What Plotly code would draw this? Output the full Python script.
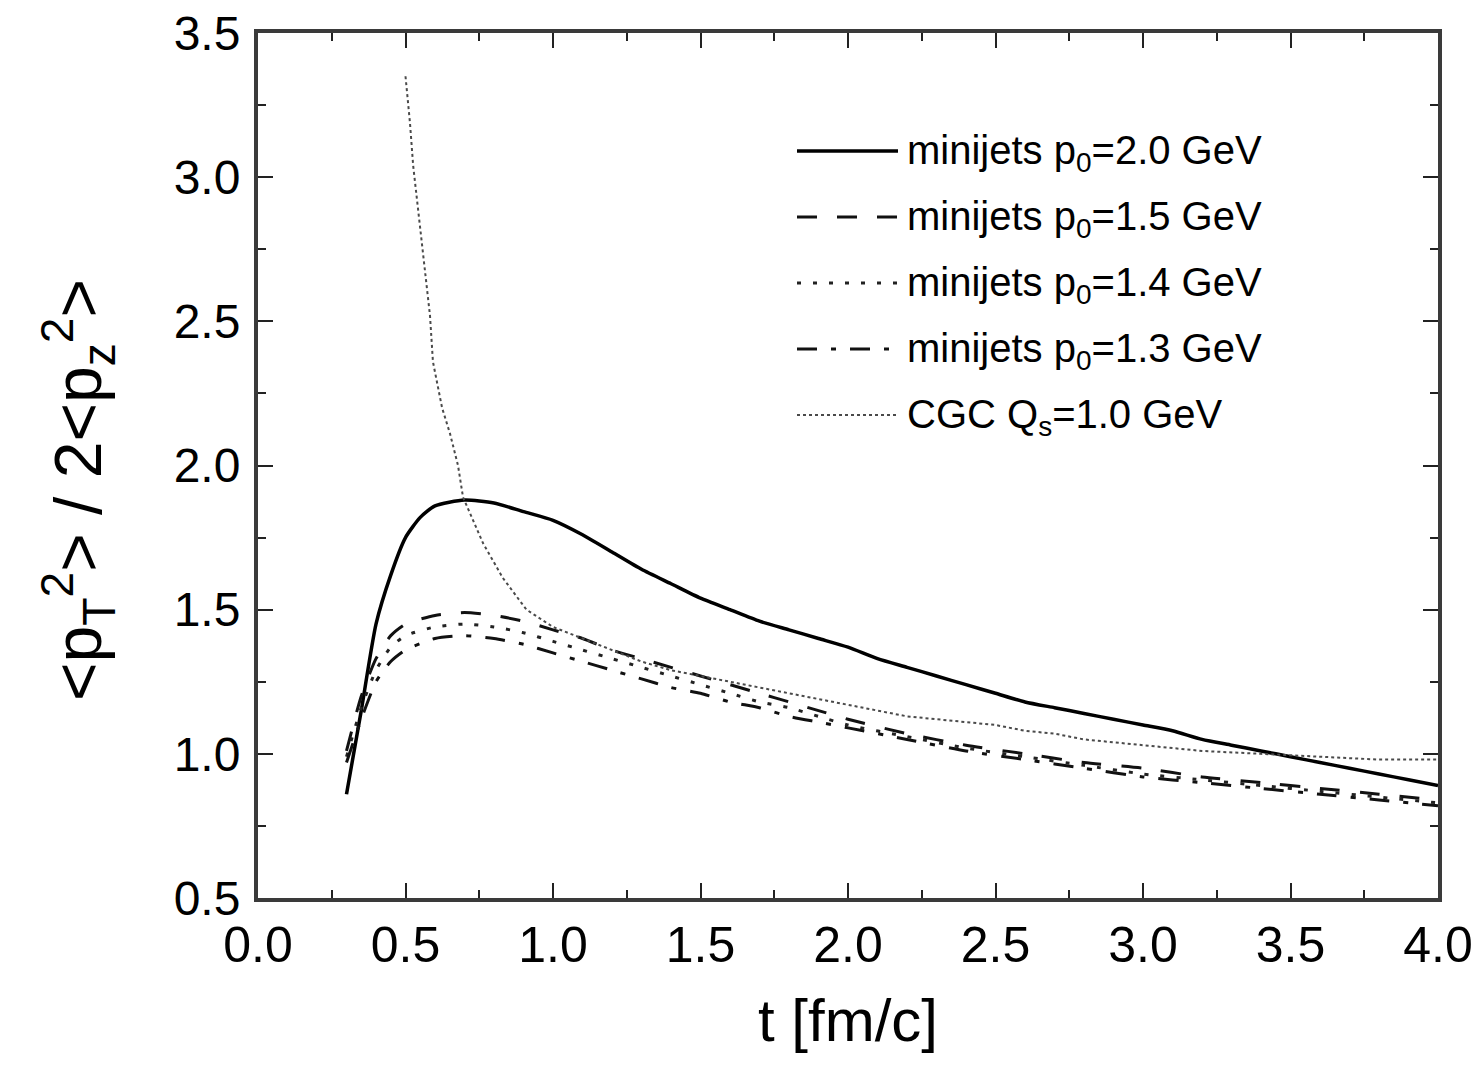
import plotly.graph_objects as go

# time axis samples [fm/c]
t_p20 = [0.30, 0.35, 0.40, 0.45, 0.50, 0.55, 0.60, 0.70, 0.80, 0.90, 1.00, 1.10, 1.20, 1.30,
         1.40, 1.50, 1.60, 1.70, 1.80, 1.90, 2.00, 2.10, 2.20, 2.30, 2.40, 2.50, 2.60, 2.70,
         2.80, 2.90, 3.00, 3.10, 3.20, 3.30, 3.40, 3.50, 3.60, 3.70, 3.80, 3.90, 4.00]
r_p20 = [0.86, 1.15, 1.45, 1.62, 1.75, 1.82, 1.86, 1.88, 1.87, 1.84, 1.81, 1.76, 1.70, 1.64,
         1.59, 1.54, 1.50, 1.46, 1.43, 1.40, 1.37, 1.33, 1.30, 1.27, 1.24, 1.21, 1.18, 1.16,
         1.14, 1.12, 1.10, 1.08, 1.05, 1.03, 1.01, 0.99, 0.97, 0.95, 0.93, 0.91, 0.89]

t_mj = [0.30, 0.35, 0.40, 0.45, 0.50, 0.60, 0.70, 0.80, 0.90, 1.00, 1.10, 1.20, 1.30, 1.40,
        1.50, 1.60, 1.70, 1.80, 1.90, 2.00, 2.20, 2.40, 2.60, 2.80, 3.00, 3.20, 3.40, 3.60,
        3.80, 4.00]
r_p15 = [1.01, 1.20, 1.33, 1.41, 1.45, 1.48, 1.49, 1.48, 1.46, 1.43, 1.40, 1.36, 1.33, 1.30,
         1.27, 1.24, 1.21, 1.18, 1.15, 1.12, 1.07, 1.03, 1.00, 0.97, 0.95, 0.92, 0.90, 0.88,
         0.86, 0.84]
r_p14 = [0.99, 1.16, 1.29, 1.37, 1.41, 1.44, 1.45, 1.44, 1.42, 1.39, 1.36, 1.33, 1.30, 1.27,
         1.24, 1.21, 1.18, 1.16, 1.13, 1.10, 1.06, 1.02, 0.99, 0.96, 0.93, 0.91, 0.89, 0.87,
         0.85, 0.83]
r_p13 = [0.97, 1.12, 1.25, 1.32, 1.36, 1.40, 1.41, 1.40, 1.38, 1.35, 1.32, 1.29, 1.26, 1.23,
         1.21, 1.18, 1.16, 1.13, 1.11, 1.09, 1.05, 1.01, 0.98, 0.95, 0.92, 0.90, 0.88, 0.86,
         0.84, 0.82]

t_cgc = [0.500, 0.515, 0.526, 0.542, 0.556, 0.570, 0.583, 0.593, 0.624, 0.651, 0.678, 0.695,
         0.763, 0.830, 0.910, 1.00, 1.10, 1.20, 1.30, 1.40, 1.50, 1.60, 1.70, 1.80, 1.90, 2.00,
         2.10, 2.20, 2.30, 2.40, 2.50, 2.60, 2.70, 2.80, 2.90, 3.00, 3.20, 3.40, 3.60, 3.80, 4.00]
r_cgc = [3.35, 3.19, 3.04, 2.89, 2.75, 2.63, 2.52, 2.36, 2.20, 2.11, 2.00, 1.89,
         1.73, 1.61, 1.50, 1.44, 1.40, 1.36, 1.32, 1.29, 1.27, 1.25, 1.23, 1.21, 1.19, 1.17,
         1.15, 1.13, 1.12, 1.11, 1.10, 1.08, 1.07, 1.05, 1.04, 1.03, 1.01, 1.00, 0.99, 0.98, 0.98]

labels = ["minijets p<sub>0</sub>=2.0 GeV", "minijets p<sub>0</sub>=1.5 GeV",
          "minijets p<sub>0</sub>=1.4 GeV", "minijets p<sub>0</sub>=1.3 GeV",
          "CGC Q<sub>s</sub>=1.0 GeV"]

styles = [
    dict(color="#000000", width=3.5, dash="solid"),
    dict(color="#111111", width=3, dash="20px,20px"),
    dict(color="#222222", width=3, dash="4px,12px"),
    dict(color="#111111", width=3, dash="20px,14px,5px,14px"),
    dict(color="#4a4a4a", width=2, dash="3px,3px"),
]
shapes_kind = ["spline", "spline", "spline", "spline", "linear"]

series = [(t_p20, r_p20), (t_mj, r_p15), (t_mj, r_p14), (t_mj, r_p13), (t_cgc, r_cgc)]

fig = go.Figure()
for (tx, ry), st, lab, sk in zip(series, styles, labels, shapes_kind):
    line = dict(st, shape=sk)
    if sk == "spline":
        line["smoothing"] = 0.6
    fig.add_trace(go.Scatter(x=tx, y=ry, mode="lines", name=lab, line=line,
                             showlegend=False))

W, H = 1481, 1075
L, R, T, B = 258, 43, 33, 177
pw, ph = W - L - R, H - T - B


def px(xp):
    return (xp - L) / pw


def py(yp):
    return (H - B - yp) / ph


# legend drawn as line samples with text
shapes = []
annotations = []
rows = [151, 217, 283, 349, 415]
for yrow, st, lab in zip(rows, styles, labels):
    shapes.append(dict(type="line", xref="paper", yref="paper",
                       x0=px(797), x1=px(898), y0=py(yrow), y1=py(yrow),
                       line=st))
    annotations.append(dict(xref="paper", yref="paper", x=px(905), y=py(yrow + 2),
                            xanchor="left", yanchor="middle", showarrow=False,
                            text=lab, font=dict(size=40, color="#000")))

annotations.append(dict(xref="paper", yref="paper", x=px(848), y=py(1020),
                        xanchor="center", yanchor="middle", showarrow=False,
                        text="t [fm/c]", font=dict(size=60, color="#000")))
annotations.append(dict(xref="paper", yref="paper", x=px(78), y=py(490),
                        xanchor="center", yanchor="middle", showarrow=False,
                        textangle=-90,
                        text="&lt;p<sub>T</sub><sup>2</sup>&gt; / 2&lt;p<sub>z</sub><sup>2</sup>&gt;",
                        font=dict(size=66, color="#000")))

axis_common = dict(showgrid=False, zeroline=False, showline=True, linecolor="#3a3a3a",
                   linewidth=4, mirror="ticks", ticks="inside", ticklen=15, tickwidth=2,
                   tickcolor="#222", tickformat=".1f")

fig.update_layout(
    width=W, height=H,
    margin=dict(l=L, r=R, t=T, b=B, autoexpand=False),
    paper_bgcolor="white", plot_bgcolor="white",
    font=dict(family="Liberation Sans, Arial, sans-serif", color="#000"),
    shapes=shapes, annotations=annotations,
    xaxis=dict(range=[0, 4.0], dtick=0.5, tick0=0,
               tickfont=dict(size=50), ticklabelstandoff=0,
               minor=dict(dtick=0.25, ticks="inside", ticklen=8, tickwidth=2,
                          tickcolor="#222"),
               **axis_common),
    yaxis=dict(range=[0.5, 3.5], dtick=0.5, tick0=0.5,
               tickfont=dict(size=48), ticklabelstandoff=4,
               minor=dict(dtick=0.25, ticks="inside", ticklen=8, tickwidth=2,
                          tickcolor="#222"),
               **axis_common),
)

fig.write_html("out.html")
